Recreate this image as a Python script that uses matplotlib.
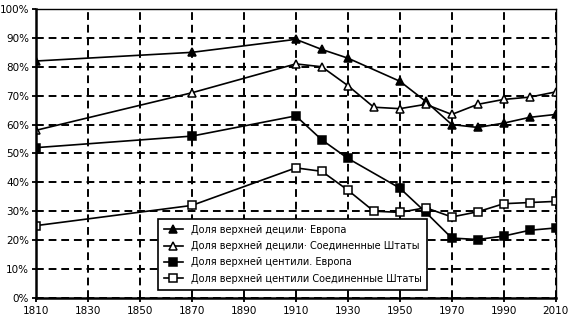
import numpy as np
import matplotlib.pyplot as plt
from matplotlib.ticker import PercentFormatter

years_eu_dec = [1810, 1870, 1910, 1920, 1930, 1950, 1960, 1970, 1980, 1990, 2000, 2010]
eu_decile = [82, 85, 89.5, 86, 83, 75, 68, 60, 59, 60.5, 62.5, 63.5]

years_us = [1810, 1870, 1910, 1920, 1930, 1940, 1950, 1960, 1970, 1980, 1990, 2000, 2010]
us_decile = [58, 71, 81, 80, 73.5, 66, 65.5, 67, 63.5, 67, 68.7, 69.5, 71.3]

years_eu_cen = [1810, 1870, 1910, 1920, 1930, 1950, 1960, 1970, 1980, 1990, 2000, 2010]
eu_centile = [52, 56, 63, 54.7, 48.3, 38, 29.6, 20.7, 20.2, 21.4, 23.4, 24.2]

us_centile = [25, 32, 45, 43.8, 37.3, 30, 29.6, 31.2, 28, 29.8, 32.6, 33, 33.4]

labels = [
    "Доля верхней децили· Европа",
    "Доля верхней децили· Соединенные Штаты",
    "Доля верхней центили. Европа",
    "Доля верхней центили Соединенные Штаты",
]

plt.rcParams['font.family'] = ['DejaVu Sans Condensed', 'DejaVu Sans']

fig = plt.figure(figsize=(5.7, 3.22), dpi=100)
ax = fig.add_axes([0.063, 0.075, 0.912, 0.897])

kw = dict(color='black', linewidth=1.2, markersize=6, markeredgewidth=1.1)
ax.plot(years_eu_dec, eu_decile, marker='^', markerfacecolor='black', label=labels[0], **kw)
ax.plot(years_us, us_decile, marker='^', markerfacecolor='white', label=labels[1], **kw)
ax.plot(years_eu_cen, eu_centile, marker='s', markerfacecolor='black', label=labels[2], **kw)
ax.plot(years_us, us_centile, marker='s', markerfacecolor='white', label=labels[3], **kw)

ax.set_xlim(1810, 2010)
ax.set_ylim(0, 100)
ax.set_xticks(np.arange(1810, 2011, 20))
ax.set_yticks(np.arange(0, 101, 10))
ax.yaxis.set_major_formatter(PercentFormatter(decimals=0))
ax.grid(True, color='black', linestyle=(0, (4, 2.5)), linewidth=1.4)
ax.tick_params(labelsize=7.5, direction='out', length=3, width=1.3, color='black')
ax.tick_params(axis='x', pad=3)
ax.tick_params(axis='y', pad=2)
for side in ['left', 'bottom']:
    ax.spines[side].set_linewidth(1.8)
for side in ['top', 'right']:
    ax.spines[side].set_linewidth(1.0)

leg = ax.legend(loc='lower left', bbox_to_anchor=(0.225, 0.012), fontsize=7,
                frameon=True, fancybox=False, framealpha=1, edgecolor='black',
                borderpad=0.6, labelspacing=0.65, handlelength=2.0)
leg.get_frame().set_linewidth(1.2)

fig.savefig('out.png', dpi=100)
